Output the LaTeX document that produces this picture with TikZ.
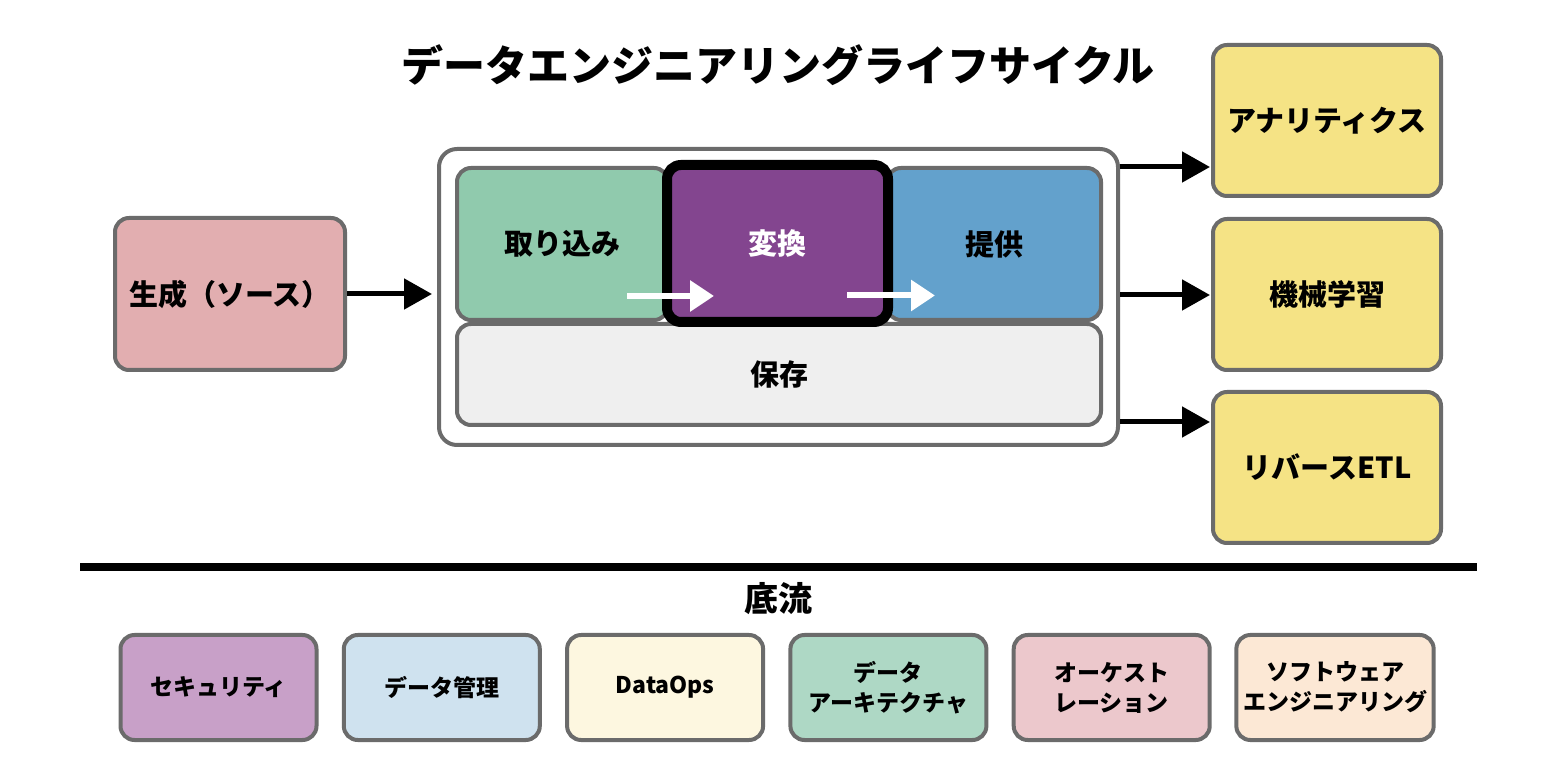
\documentclass[tikz,border=0pt]{standalone}
\usepackage{fontspec}
\setmainfont{Noto Sans CJK JP}
\usetikzlibrary{arrows.meta}
\definecolor{edgegray}{rgb}{0.42, 0.42, 0.42}
\definecolor{sourcefill}{rgb}{0.886, 0.682, 0.690}
\definecolor{ingestfill}{rgb}{0.565, 0.792, 0.678}
\definecolor{transformfill}{rgb}{0.514, 0.271, 0.561}
\definecolor{servefill}{rgb}{0.388, 0.631, 0.8}
\definecolor{storefill}{rgb}{0.937, 0.937, 0.937}
\definecolor{usefill}{rgb}{0.961, 0.89, 0.522}
\definecolor{securityfill}{rgb}{0.784, 0.627, 0.784}
\definecolor{mgmtfill}{rgb}{0.812, 0.886, 0.937}
\definecolor{opsfill}{rgb}{0.992, 0.969, 0.878}
\definecolor{archfill}{rgb}{0.682, 0.847, 0.773}
\definecolor{orchfill}{rgb}{0.925, 0.784, 0.8}
\definecolor{swfill}{rgb}{0.988, 0.91, 0.835}
\tikzset{
  stagebox/.style={draw=edgegray, line width=2pt, rounded corners=7pt, align=center, font=\fontsize{14.5}{17}\selectfont\bfseries},
  usebox/.style={stagebox, fill=usefill, minimum width=114pt, minimum height=75.5pt},
  flowbox/.style={draw=edgegray, line width=2pt, rounded corners=7pt, align=center, minimum width=98pt, minimum height=52.5pt, font=\fontsize{11.5}{15}\selectfont\bfseries},
  blackarrow/.style={line width=2.5pt, -{Triangle[length=14pt, width=15pt]}},
  whitearrow/.style={white, line width=3pt, -{Triangle[length=12pt, width=15pt]}}
}
\newcommand{\fsep}{223.3}
\begin{document}
\begin{tikzpicture}[x=0.5pt, y=-0.5pt]
\useasboundingbox (0,0) rectangle (1557,779);

% title
\node[font=\fontsize{21}{25}\selectfont\bfseries] (title) at (778,65) {データエンジニアリングライフサイクル};

% source
\node[stagebox, fill=sourcefill, minimum width=115pt, minimum height=76pt] (source) at (230,294) {生成（ソース）};

% lifecycle frame
\node[draw=edgegray, line width=2pt, rounded corners=9pt, fill=white, minimum width=339.5pt, minimum height=148pt] (frame) at (778.5,297) {};
\node[stagebox, fill=storefill, minimum width=322pt, minimum height=50.5pt] (store) at (779,374.5) {保存};
\node[stagebox, fill=ingestfill, minimum width=105.5pt, minimum height=76pt] (ingest) at (562.5,244) {取り込み};
\node[stagebox, fill=servefill, minimum width=107pt, minimum height=76pt] (serve) at (994,244) {提供};
\node[stagebox, draw=black, line width=5pt, fill=transformfill, text=white, minimum width=110.5pt, minimum height=78.5pt] (transform) at (777.5,243.5) {変換};

% uses
\node[usebox] (analytics) at (1327,120.5) {アナリティクス};
\node[usebox] (ml) at (1327,294.5) {機械学習};
\node[usebox] (retl) at (1327,467.5) {リバースETL};

% arrows
\draw[blackarrow, shorten >=2.5pt] (source.east) -- (source.east -| frame.west);
\draw[whitearrow] ([xshift=-21.5pt, yshift=-26pt]ingest.east) -- ++(43.5pt,0);
\draw[whitearrow] ([xshift=-23pt, yshift=-26pt]transform.east) -- ++(44pt,0);
\draw[blackarrow] ([yshift=65pt]frame.east) -- ++(45pt,0);
\draw[blackarrow] ([yshift=1pt]frame.east) -- ++(45pt,0);
\draw[blackarrow] ([yshift=-62.5pt]frame.east) -- ++(45pt,0);

% undercurrents
\coordinate (rulel) at (80,567);
\coordinate (ruler) at (1477,567);
\draw[line width=4pt] (rulel) -- (ruler);
\node[font=\fontsize{17}{20}\selectfont\bfseries] (under) at (778,599) {底流};
\node[flowbox, fill=securityfill] (security) at (218.5,687.5) {セキュリティ};
\node[flowbox, fill=mgmtfill] (mgmt) at (218.5+\fsep,687.5) {データ管理};
\node[flowbox, fill=opsfill] (ops) at (218.5+2*\fsep,687.5) {DataOps};
\node[flowbox, fill=archfill] (arch) at (218.5+3*\fsep,687.5) {データ\\アーキテクチャ};
\node[flowbox, fill=orchfill] (orch) at (218.5+4*\fsep,687.5) {オーケスト\\レーション};
\node[flowbox, fill=swfill] (sweng) at (218.5+5*\fsep,687.5) {ソフトウェア\\エンジニアリング};
\end{tikzpicture}
\end{document}
